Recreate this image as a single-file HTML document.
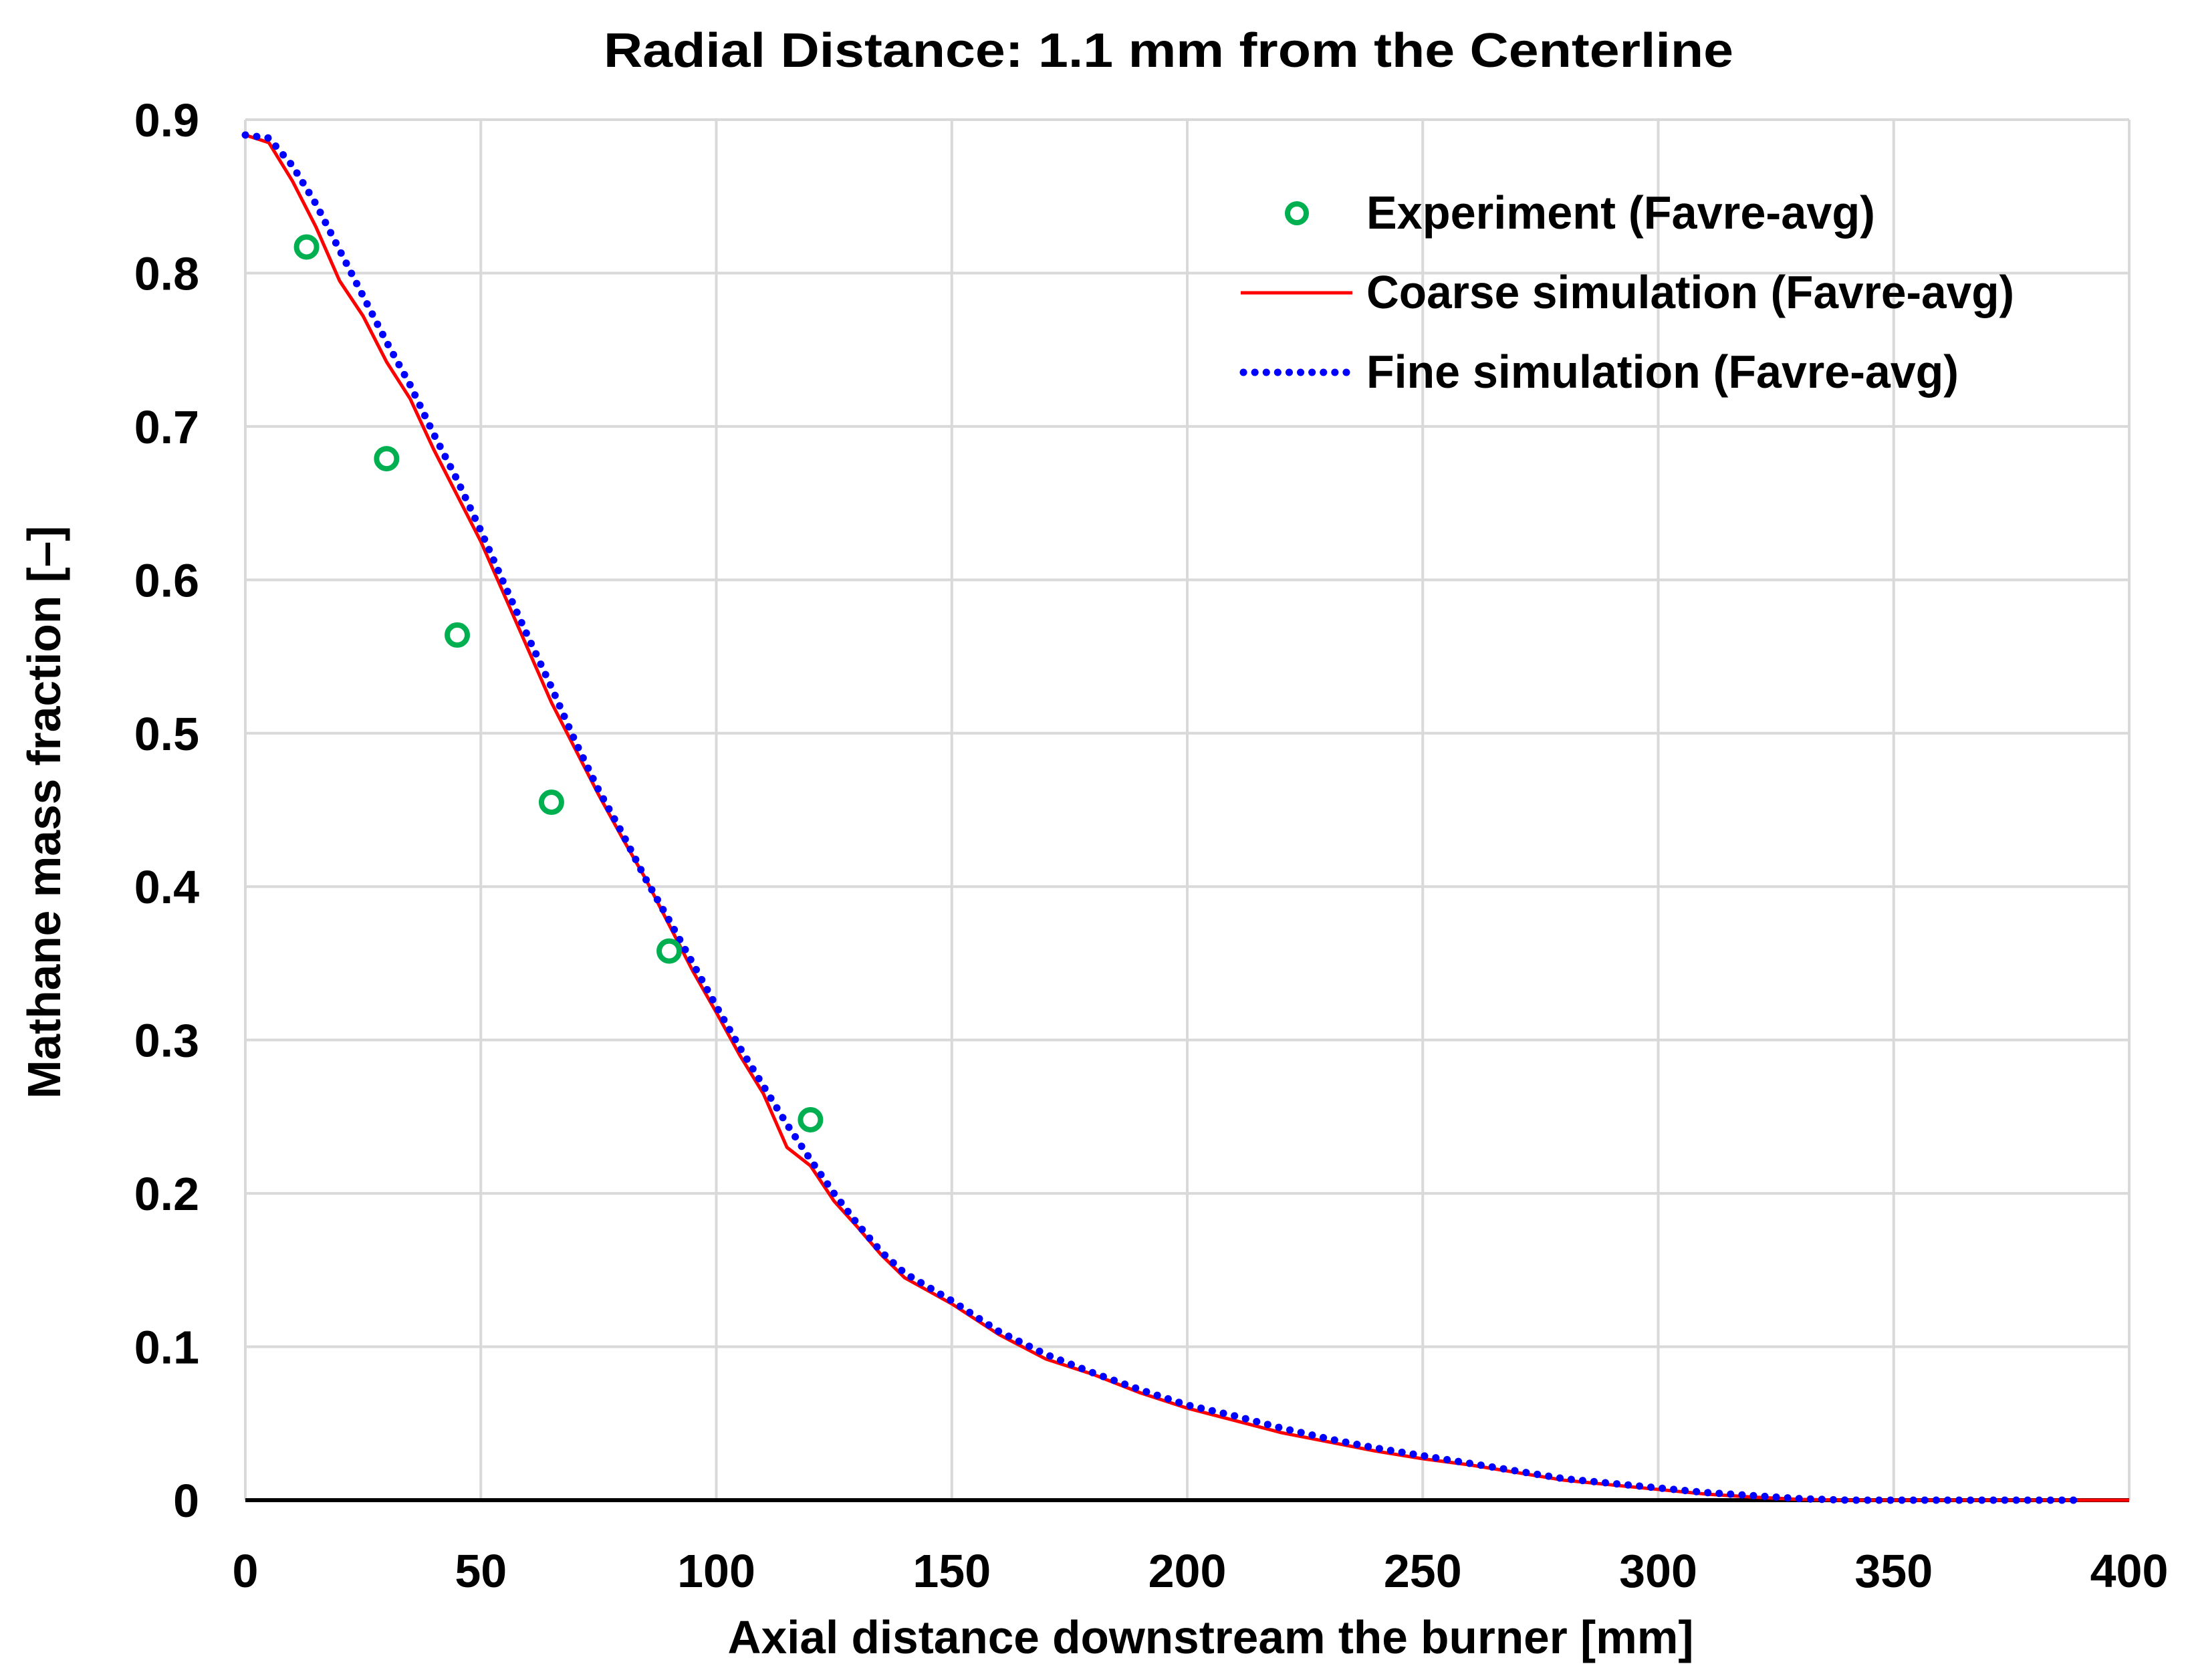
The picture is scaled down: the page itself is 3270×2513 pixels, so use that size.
<!DOCTYPE html>
<html><head><meta charset="utf-8"><style>
html,body{margin:0;padding:0;background:#fff;}
svg{display:block;font-family:"Liberation Sans",sans-serif;font-weight:bold;}
</style></head><body>
<svg id="chart" width="3270" height="2513" viewBox="0 0 3270 2513" xmlns="http://www.w3.org/2000/svg">
<rect width="3270" height="2513" fill="#fff"/>
<text x="1748" y="100" font-size="72" text-anchor="middle" textLength="1690" lengthAdjust="spacingAndGlyphs">Radial Distance: 1.1 mm from the Centerline</text>
<g id="grid"></g>
<g id="ticks"></g>
<g id="series"></g>
<text x="1811" y="2473" font-size="70" text-anchor="middle" textLength="1445" lengthAdjust="spacingAndGlyphs">Axial distance downstream the burner [mm]</text>
<text transform="translate(90,1215) rotate(-90)" font-size="70" text-anchor="middle" textLength="857" lengthAdjust="spacingAndGlyphs">Mathane mass fraction [–]</text>
<g>
<circle cx="1940" cy="319" r="14" fill="none" stroke="#00b050" stroke-width="8"/>
<text x="2044" y="342" font-size="70" textLength="761" lengthAdjust="spacingAndGlyphs">Experiment (Favre-avg)</text>
<line x1="1856" y1="438" x2="2023" y2="438" stroke="#ff0000" stroke-width="5"/>
<text x="2044" y="461" font-size="70" textLength="969" lengthAdjust="spacingAndGlyphs">Coarse simulation (Favre-avg)</text>
<line x1="1860" y1="557" x2="2023" y2="557" stroke="#0000ff" stroke-width="11" stroke-linecap="round" stroke-dasharray="0.1 17"/>
<text x="2044" y="580" font-size="70" textLength="886" lengthAdjust="spacingAndGlyphs">Fine simulation (Favre-avg)</text>
</g>
</svg>
<script>
const xTicks = [0,50,100,150,200,250,300,350,400];
const yTicks = [0,0.1,0.2,0.3,0.4,0.5,0.6,0.7,0.8,0.9];
const yTickLabels = ["0","0.1","0.2","0.3","0.4","0.5","0.6","0.7","0.8","0.9"];
const expX = [13,30,45,65,90,120];
const expY = [0.817,0.679,0.564,0.455,0.358,0.248];
const coarseX = [0,5,10,15,20,25,30,35,40,45,50,55,60,65,70,75,80,85,90,95,100,105,110,115,120,125,130,135,140,150,160,170,180,190,200,210,220,230,240,250,260,270,280,290,300,310,320,330,340,400];
const coarseY = [0.89,0.885,0.86,0.83,0.795,0.772,0.742,0.718,0.685,0.655,0.625,0.59,0.555,0.52,0.49,0.46,0.432,0.405,0.375,0.345,0.318,0.29,0.265,0.23,0.218,0.195,0.178,0.16,0.145,0.128,0.108,0.092,0.082,0.07,0.06,0.052,0.044,0.038,0.032,0.027,0.023,0.018,0.013,0.01,0.007,0.004,0.002,0.0005,0,0];
const fineX = [0,5,10,15,20,25,30,35,40,45,50,55,60,65,70,75,80,85,90,95,100,105,110,115,120,125,130,135,140,150,160,170,180,190,200,210,220,230,240,250,260,270,280,290,300,310,320,330,340,390];
const fineY = [0.89,0.888,0.87,0.845,0.815,0.785,0.755,0.727,0.695,0.665,0.632,0.597,0.563,0.53,0.495,0.463,0.435,0.405,0.378,0.35,0.322,0.295,0.27,0.245,0.222,0.2,0.18,0.162,0.148,0.13,0.11,0.095,0.083,0.072,0.062,0.055,0.047,0.04,0.034,0.029,0.024,0.019,0.014,0.011,0.008,0.005,0.003,0.001,0,0];

const L=367,R=3185,T=179,B=2244;
const sx=v=>L+(R-L)*v/400;
const sy=v=>B-(B-T)*v/0.9;
const NS="http://www.w3.org/2000/svg";
function mk(tag,attrs,parent){const e=document.createElementNS(NS,tag);for(const k in attrs)e.setAttribute(k,attrs[k]);parent.appendChild(e);return e;}
const grid=document.getElementById('grid'),ticks=document.getElementById('ticks'),series=document.getElementById('series');
xTicks.forEach(v=>{
  const g=mk('line',{x1:sx(v),x2:sx(v),y1:T,y2:B,stroke:'#d9d9d9','stroke-width':4},grid);
  
  
  const t=mk('text',{x:sx(v),y:2374,'font-size':70,'text-anchor':'middle'},ticks);
  t.textContent=String(v);
  
  
});
yTicks.forEach((v,i)=>{
  if(v>0){const g=mk('line',{x1:L,x2:R,y1:sy(v),y2:sy(v),stroke:'#d9d9d9','stroke-width':4},grid);
  
  }
  const t=mk('text',{x:298,y:sy(v)+25,'font-size':70,'text-anchor':'end'},ticks);
  t.textContent=yTickLabels[i];
  
  
});
const ax=mk('line',{x1:L,x2:R,y1:B,y2:B,stroke:'#000','stroke-width':6},grid);


const cp=mk('polyline',{points:coarseX.map((x,i)=>sx(x)+','+sy(coarseY[i])).join(' '),fill:'none',stroke:'#ff0000','stroke-width':5,'stroke-linejoin':'round'},series);


const fp=mk('polyline',{points:fineX.map((x,i)=>sx(x)+','+sy(fineY[i])).join(' '),fill:'none',stroke:'#0000ff','stroke-width':11,'stroke-linecap':'round','stroke-dasharray':'0.1 17'},series);


expX.forEach((x,i)=>{
  const c=mk('circle',{cx:sx(x),cy:sy(expY[i]),r:15,fill:'none',stroke:'#00b050','stroke-width':8},series);
  
  
});
</script>
</body></html>
